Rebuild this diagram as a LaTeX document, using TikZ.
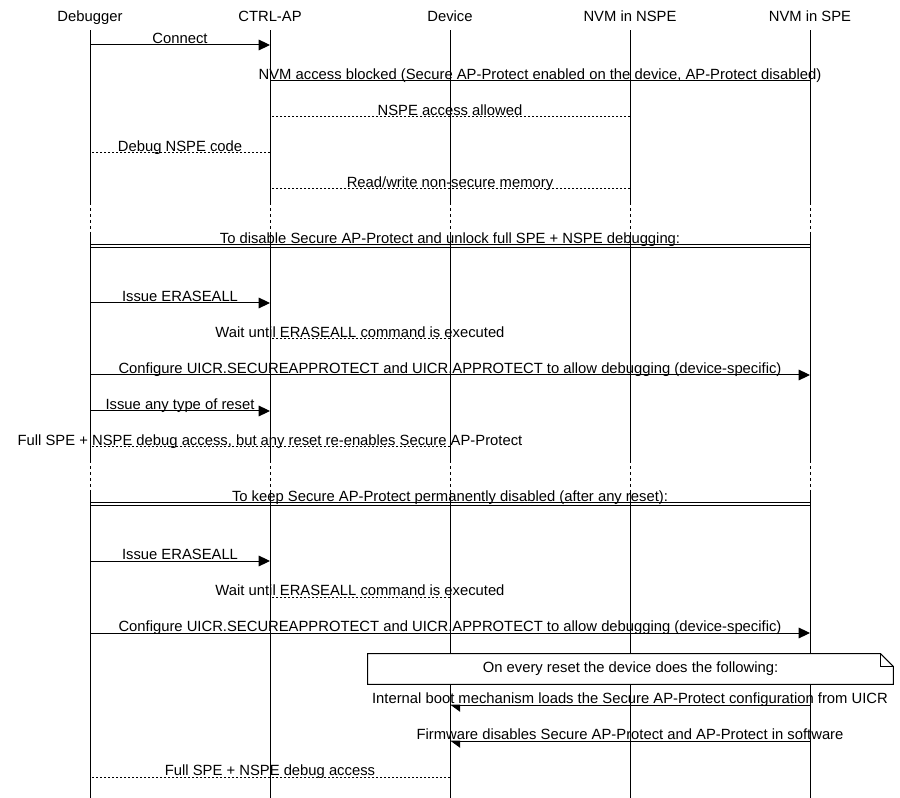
\documentclass[tikz,border=0pt]{standalone}
\usepackage{fontspec}
\setmainfont{Liberation Sans}
\usetikzlibrary{arrows.meta}
\tikzset{
  actor/.style={minimum height=18pt,inner sep=0pt,text height=8pt,text depth=2.3pt},
  life/.style={line width=0.75pt},
  gapline/.style={line width=0.75pt,dash pattern=on 2.25pt off 2.25pt},
  plain/.style={line width=0.75pt},
  call/.style={plain,-{Stealth[inset=0pt,length=8.5pt,width=8pt]}},
  reply/.style={plain,dash pattern=on 1.5pt off 1.5pt},
  boot/.style={plain,-{Stealth[inset=0pt,left,length=7pt,width=10pt]}},
  lbl/.style={anchor=base,inner sep=0pt,yshift=0.9pt},
  notebox/.style={fill=white,minimum width=393.75pt,minimum height=22.5pt,inner sep=0pt}
}

\begin{document}
\begin{tikzpicture}[x=0.75pt,y=-0.75pt,font=\fontsize{11.1}{13}\selectfont]
\useasboundingbox (0,0) rectangle (900,798);
% lifeline heads
\node[actor] (dbg) at (90,18) {Debugger};
\node[actor] (ctrl) at (270,18) {CTRL-AP};
\node[actor] (dev) at (450,18) {Device};
\node[actor] (nspe) at (630,18) {NVM in NSPE};
\node[actor] (spe) at (810,18) {NVM in SPE};
\coordinate (g1a) at (0,202); \coordinate (g1b) at (0,232);
\coordinate (g2a) at (0,460); \coordinate (g2b) at (0,490);
\coordinate (bot) at (0,798);
% lifelines
\draw[life] (dbg.south) -- (dbg |- g1a) (dbg |- g1b) -- (dbg |- g2a) (dbg |- g2b) -- (dbg |- bot);
\draw[life] (ctrl.south) -- (ctrl |- g1a) (ctrl |- g1b) -- (ctrl |- g2a) (ctrl |- g2b) -- (ctrl |- bot);
\draw[life] (dev.south) -- (dev |- g1a) (dev |- g1b) -- (dev |- g2a) (dev |- g2b) -- (dev |- bot);
\draw[life] (nspe.south) -- (nspe |- g1a) (nspe |- g1b) -- (nspe |- g2a) (nspe |- g2b) -- (nspe |- bot);
\draw[life] (spe.south) -- (spe |- g1a) (spe |- g1b) -- (spe |- g2a) (spe |- g2b) -- (spe |- bot);
\draw[gapline] (dbg |- g1a) -- (dbg |- g1b) (dbg |- g2a) -- (dbg |- g2b);
\draw[gapline] (ctrl |- g1a) -- (ctrl |- g1b) (ctrl |- g2a) -- (ctrl |- g2b);
\draw[gapline] (dev |- g1a) -- (dev |- g1b) (dev |- g2a) -- (dev |- g2b);
\draw[gapline] (nspe |- g1a) -- (nspe |- g1b) (nspe |- g2a) -- (nspe |- g2b);
\draw[gapline] (spe |- g1a) -- (spe |- g1b) (spe |- g2a) -- (spe |- g2b);
% default state
\draw[call] (dbg |- 0,45) -- node[lbl] {Connect} (ctrl |- 0,45);
\draw[plain] (spe |- 0,81) -- node[lbl] {NVM access blocked (Secure AP-Protect enabled on the device, AP-Protect disabled)} (ctrl |- 0,81);
\draw[reply] (nspe |- 0,117) -- node[lbl] {NSPE access allowed} (ctrl |- 0,117);
\draw[reply] (ctrl |- 0,153) -- node[lbl] {Debug NSPE code} (dbg |- 0,153);
\draw[reply] (nspe |- 0,189) -- node[lbl] {Read/write non-secure memory} (ctrl |- 0,189);
% disable until next reset
\draw[plain] (dbg |- 0,245) -- node[lbl] {To disable Secure AP-Protect and unlock full SPE + NSPE debugging:} (spe |- 0,245);
\draw[plain] (dbg |- 0,248) -- (spe |- 0,248);
\draw[call] (dbg |- 0,303) -- node[lbl] {Issue ERASEALL} (ctrl |- 0,303);
\draw[reply] (dev |- 0,339) -- node[lbl] {Wait until ERASEALL command is executed} (ctrl |- 0,339);
\draw[call] (dbg |- 0,375) -- node[lbl] {Configure UICR.SECUREAPPROTECT and UICR.APPROTECT to allow debugging (device-specific)} (spe |- 0,375);
\draw[call] (dbg |- 0,411) -- node[lbl] {Issue any type of reset} (ctrl |- 0,411);
\draw[reply] (dev |- 0,447) -- node[lbl] {Full SPE + NSPE debug access, but any reset re-enables Secure AP-Protect} (dbg |- 0,447);
% keep disabled
\draw[plain] (dbg |- 0,503) -- node[lbl] {To keep Secure AP-Protect permanently disabled (after any reset):} (spe |- 0,503);
\draw[plain] (dbg |- 0,506) -- (spe |- 0,506);
\draw[call] (dbg |- 0,561) -- node[lbl] {Issue ERASEALL} (ctrl |- 0,561);
\draw[reply] (dev |- 0,597) -- node[lbl] {Wait until ERASEALL command is executed} (ctrl |- 0,597);
\draw[call] (dbg |- 0,633) -- node[lbl] {Configure UICR.SECUREAPPROTECT and UICR.APPROTECT to allow debugging (device-specific)} (spe |- 0,633);
\node[notebox] (note) at (630.5,669) {On every reset the device does the following:};
\draw[plain] (note.south west) -- (note.north west) -- ([xshift=-9.5pt]note.north east) -- ([yshift=-9.5pt]note.north east) -- (note.south east) -- cycle;
\draw[plain] ([xshift=-9.5pt]note.north east) |- ([yshift=-9.5pt]note.north east);
\draw[boot] (spe |- 0,705) -- node[lbl] {Internal boot mechanism loads the Secure AP-Protect configuration from UICR} (dev |- 0,705);
\draw[boot] (spe |- 0,741) -- node[lbl] {Firmware disables Secure AP-Protect and AP-Protect in software} (dev |- 0,741);
\draw[reply] (dev |- 0,777) -- node[lbl] {Full SPE + NSPE debug access} (dbg |- 0,777);
\end{tikzpicture}
\end{document}
